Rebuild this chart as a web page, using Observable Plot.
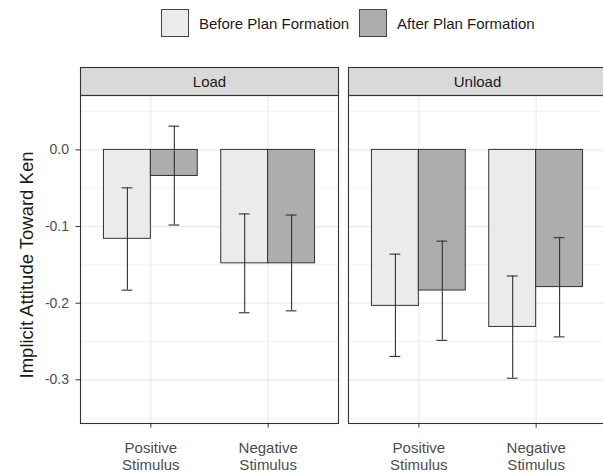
<!DOCTYPE html>
<html>
<head>
<meta charset="utf-8">
<script src="https://cdn.jsdelivr.net/npm/d3@7"></script>
<script src="https://cdn.jsdelivr.net/npm/@observablehq/plot@0.6"></script>
<style>
  html, body { margin: 0; padding: 0; background: #fff; overflow: hidden; }
  #wrap { position: relative; width: 603px; height: 473px; overflow: hidden; font-family: "Liberation Sans", Arial, sans-serif; }
  #legend { position: absolute; top: 9px; left: 161px; display: flex; align-items: center; font-size: 15px; color: #1a1a1a; white-space: nowrap; }
  .key { width: 28px; height: 28px; box-sizing: border-box; border: 1.2px solid #444; margin-right: 10px; }
  .lab { margin-right: 10px; }
  #chart { position: absolute; top: 0; left: 0; width: 608px; }
</style>
</head>
<body>
<div id="wrap">
  <div id="chart"></div>
  <div id="legend"></div>
</div>
<script>
const conditions = ["Load", "Unload"];
const stimuli = ["Positive Stimulus", "Negative Stimulus"];
const phases = ["Before Plan Formation", "After Plan Formation"];
const phaseColors = ["#ebebeb", "#adadad"];
// order: Load-Positive, Load-Negative, Unload-Positive, Unload-Negative
const beforeMean = [-0.116, -0.148, -0.2035, -0.231];
const afterMean  = [-0.034, -0.148, -0.1835, -0.179];
const beforeLow  = [-0.183, -0.2125, -0.2695, -0.298];
const beforeHigh = [-0.0495, -0.0835, -0.136, -0.1645];
const afterLow   = [-0.098, -0.210, -0.2485, -0.244];
const afterHigh  = [0.031, -0.085, -0.119, -0.1145];
const yTicks = [0, -0.1, -0.2, -0.3];
const yMinor = [0.05, -0.05, -0.15, -0.25, -0.35];

const means = [beforeMean, afterMean], lows = [beforeLow, afterLow], highs = [beforeHigh, afterHigh];
const rows = [];
conditions.forEach((c, ci) => stimuli.forEach((s, si) => phases.forEach((p, pi) => {
  const k = ci * 2 + si;
  rows.push({condition: c, stimulus: s, phase: p, si: si + 1, pi, mean: means[pi][k], lo: lows[pi][k], hi: highs[pi][k]});
})));

const bw = 0.4;       // each bar's width in band units
const cap = 0.046;    // half width of error bar caps
const center = d => d.si - bw / 2 + d.pi * bw;

const chart = Plot.plot({
  width: 608, height: 473,
  marginTop: 95, marginBottom: 50, marginLeft: 80, marginRight: 1,
  style: {fontFamily: '"Liberation Sans", Arial, sans-serif', background: "#fff", maxWidth: "none"},
  fx: {domain: conditions, paddingInner: 0.036, paddingOuter: 0},
  x: {type: "linear", domain: [0.4, 2.6]},
  y: {domain: [-0.357, 0.071]},
  color: {domain: phases, range: phaseColors},
  marks: [
    Plot.gridY(yMinor, {stroke: "#ebebeb", strokeOpacity: 1, strokeWidth: 0.6}),
    Plot.gridY(yTicks, {stroke: "#ebebeb", strokeOpacity: 1, strokeWidth: 1.2}),
    Plot.gridX([1, 2], {stroke: "#ebebeb", strokeOpacity: 1, strokeWidth: 1.2}),
    Plot.rect(rows, {fx: "condition", x1: d => d.si - bw + d.pi * bw, x2: d => d.si + d.pi * bw, y1: 0, y2: "mean", fill: "phase", stroke: "#333", strokeWidth: 1, inset: 0}),
    Plot.ruleX(rows, {fx: "condition", x: center, y1: "lo", y2: "hi", stroke: "#333", strokeWidth: 1.1}),
    Plot.ruleY(rows, {fx: "condition", y: "lo", x1: d => center(d) - cap, x2: d => center(d) + cap, stroke: "#333", strokeWidth: 1.1}),
    Plot.ruleY(rows, {fx: "condition", y: "hi", x1: d => center(d) - cap, x2: d => center(d) + cap, stroke: "#333", strokeWidth: 1.1}),
    Plot.axisY({ticks: yTicks, tickFormat: d => d.toFixed(1), tickSize: 4.5, tickPadding: 7, fontSize: 14, fill: "#4d4d4d", stroke: "#333", label: null, facetAnchor: "left"}),
    Plot.axisX({ticks: [1, 2], tickFormat: i => stimuli[i - 1].replace(" ", "\n"), tickSize: 4.5, tickPadding: 13, fontSize: 15, lineHeight: 1.13, fill: "#4d4d4d", stroke: "#333", label: null}),
    Plot.axisFx({anchor: "top", tickSize: 0, tickPadding: 9, fontSize: 15, fill: "#1a1a1a", label: null}),
    Plot.frame({stroke: "#333", strokeWidth: 1.1})
  ]
});

document.getElementById("chart").appendChild(chart);

// y-axis title
const svg = d3.select(chart);
svg.append("text")
  .attr("transform", "translate(33,265) rotate(-90)")
  .attr("text-anchor", "middle")
  .attr("font-size", 18.5)
  .attr("fill", "#1a1a1a")
  .text("Implicit Attitude Toward Ken");

// facet strips above each panel frame
const sb = chart.getBoundingClientRect();
const frames = chart.querySelectorAll('[aria-label="frame"] rect');
const first = chart.querySelector("g");
frames.forEach(r => {
  const b = r.getBoundingClientRect();
  const s = document.createElementNS("http://www.w3.org/2000/svg", "rect");
  s.setAttribute("x", b.left - sb.left);
  s.setAttribute("y", b.top - sb.top - 28);
  s.setAttribute("width", b.width);
  s.setAttribute("height", 28);
  s.setAttribute("fill", "#d9d9d9");
  s.setAttribute("stroke", "#333");
  s.setAttribute("stroke-width", 1.1);
  chart.insertBefore(s, first);
});

// legend
const leg = document.getElementById("legend");
phases.forEach((p, i) => {
  const k = document.createElement("div");
  k.className = "key";
  k.style.background = phaseColors[i];
  const t = document.createElement("div");
  t.className = "lab";
  t.textContent = p;
  leg.appendChild(k);
  leg.appendChild(t);
});
</script>
</body>
</html>
